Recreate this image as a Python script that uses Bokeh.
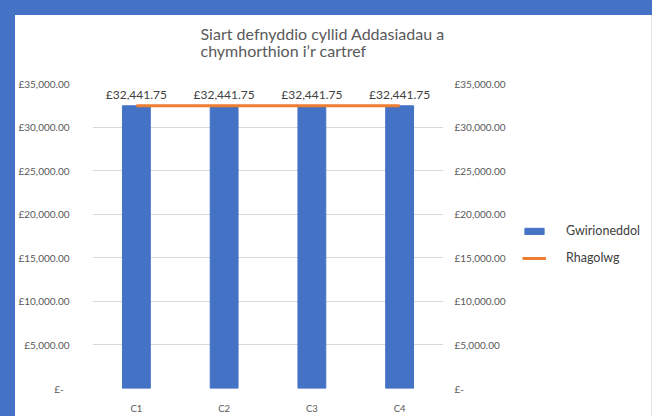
from bokeh.plotting import figure
from bokeh.models import (ColumnDataSource, FactorRange, Range1d, LinearAxis, FixedTicker,
                          LabelSet, Label, Legend, LegendItem, Spacer)
from bokeh.core.properties import value
from bokeh.layouts import row, column
from bokeh.embed import file_html
from bokeh.resources import INLINE

categories = ["C1", "C2", "C3", "C4"]
actual = [32441.75, 32441.75, 32441.75, 32441.75]
forecast = [32441.75, 32441.75, 32441.75, 32441.75]
y_ticks = [0, 5000, 10000, 15000, 20000, 25000, 30000, 35000]
y_tick_labels = ["£-\u2007", "£5,000.00", "£10,000.00", "£15,000.00", "£20,000.00",
                 "£25,000.00", "£30,000.00", "£35,000.00"]
title_lines = ["Siart defnyddio cyllid Addasiadau a", "chymhorthion i’r cartref"]
series_names = ["Gwirioneddol", "Rhagolwg"]

FONT = "Lato"
BLUE = "#4472C4"
ORANGE = "#ED7D31"
GRID = "#D9D9D9"
AX_TXT = "#595959"
TXT = "#404040"

src = ColumnDataSource(dict(
    cat=categories, actual=actual, forecast=forecast,
    lbl=[f"£{v:,.2f}" for v in actual],
))

x_range = FactorRange(*categories)
y_range = Range1d(0, 35000)

# ---- title strip (pixel-scaled ranges) ----
TW, TH = 636, 58
tf = figure(width=TW, height=TH, x_range=Range1d(0, TW), y_range=Range1d(0, TH),
            output_backend="svg", toolbar_location=None, title=None, min_border=0,
            border_fill_color="white", background_fill_color="white")
tf.outline_line_color = None
tf.axis.visible = False
tf.grid.visible = False
for txt, ty in zip(title_lines, [TH - 18, TH - 35]):
    tf.add_layout(Label(x=185, y=ty, text=txt, text_align="left", text_baseline="middle",
                        text_font=FONT, text_font_size="16px", text_color=AX_TXT))

# ---- main chart ----
p = figure(width=497, height=343, x_range=x_range, y_range=y_range,
           output_backend="svg", toolbar_location=None, title=None,
           min_border_left=75, min_border_right=69, min_border_top=10, min_border_bottom=19,
           background_fill_color="white", border_fill_color="white")
p.outline_line_color = None

bars = p.vbar(x="cat", top="actual", width=0.317, source=src, color=BLUE)
line = p.line(x="cat", y="forecast", source=src, line_color=ORANGE, line_width=3)

labels = LabelSet(x="cat", y="actual", text="lbl", source=src, text_align="center",
                  text_baseline="bottom", y_offset=4, text_font=value(FONT),
                  text_font_size="12px", text_color=TXT)
p.add_layout(labels)

ticker = FixedTicker(ticks=y_ticks)
overrides = {t: l for t, l in zip(y_ticks, y_tick_labels)}

yl = p.yaxis[0]
yl.ticker = ticker
yl.major_label_overrides = overrides

yr = LinearAxis(ticker=ticker)
yr.major_label_overrides = overrides
p.add_layout(yr, "right")

for ax in (yl, yr):
    ax.axis_line_color = None
    ax.major_tick_line_color = None
    ax.minor_tick_line_color = None
    ax.major_label_text_font = FONT
    ax.major_label_text_font_size = "10px"
    ax.major_label_text_color = AX_TXT
yl.major_label_standoff = 17
yr.major_label_standoff = 5

xa = p.xaxis[0]
xa.axis_line_color = None
xa.major_tick_line_color = None
xa.major_label_text_font = FONT
xa.major_label_text_font_size = "9.5px"
xa.major_label_text_color = AX_TXT
xa.major_label_standoff = 8

p.xgrid.grid_line_color = None
p.ygrid.ticker = ticker
p.ygrid.grid_line_color = GRID
p.ygrid.grid_line_width = 1

# ---- legend panel: swatches come from hidden copies of the series ----
lg = figure(width=139, height=343, x_range=x_range, y_range=y_range,
            output_backend="svg", toolbar_location=None, title=None,
            min_border=0, border_fill_color="white", background_fill_color="white")
lg.outline_line_color = None
lg.axis.visible = False
lg.grid.visible = False
lbars = lg.vbar(x="cat", top="actual", width=0.317, source=src, color=BLUE, visible=False)
lline = lg.line(x="cat", y="forecast", source=src, line_color=ORANGE, line_width=3, visible=False)

legend = Legend(items=[LegendItem(label=series_names[0], renderers=[lbars]),
                       LegendItem(label=series_names[1], renderers=[lline])],
                location=(10, 123), orientation="vertical",
                border_line_color=None, background_fill_alpha=0,
                padding=0, margin=0, glyph_width=24, glyph_height=8,
                label_standoff=20, spacing=12, label_height=14,
                label_text_font=FONT, label_text_font_size="12.5px", label_text_color=TXT)
lg.add_layout(legend)

top = Spacer(width=652, height=15, styles={"background-color": BLUE})
left = Spacer(width=15, height=401, styles={"background-color": BLUE})
edge = Spacer(width=1, height=401, styles={"background-color": "#E4E4E4"})
layout = column(top, row(left, column(tf, row(p, lg)), edge))

open("out.html", "w").write(file_html(layout, INLINE))
